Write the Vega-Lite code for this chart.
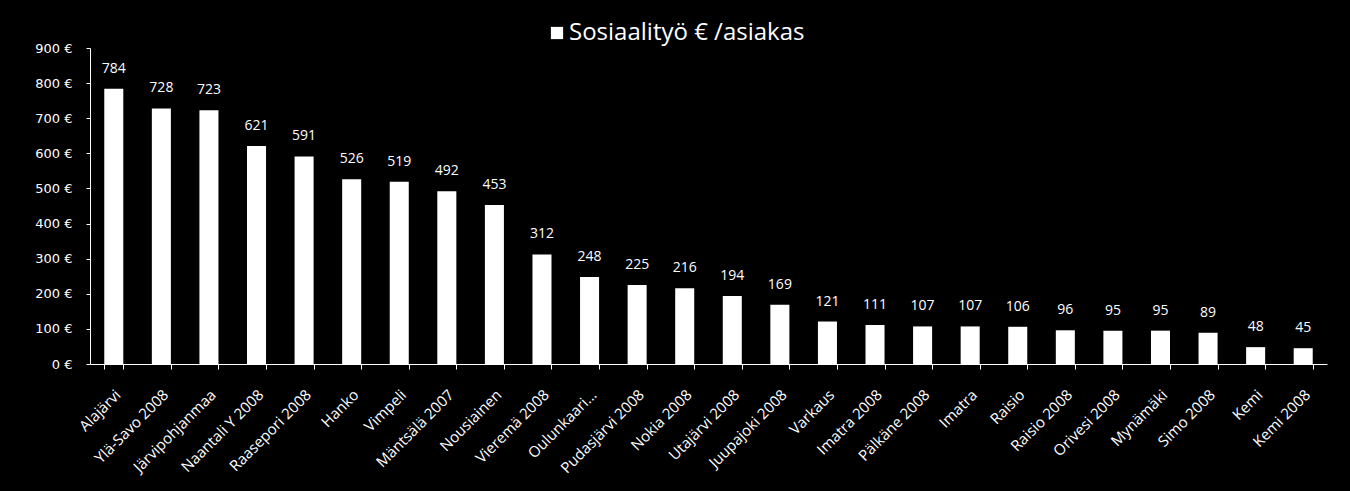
{
  "$schema": "https://vega.github.io/schema/vega-lite/v6.json",
  "width": 1237,
  "height": 316,
  "autosize": {"type": "none"},
  "padding": {"left": 90, "top": 48, "right": 23, "bottom": 127},
  "background": "#000000",
  "config": {
    "view": {"stroke": null},
    "font": "Open Sans",
    "axis": {"domainColor": "#ffffff", "tickColor": "#ffffff", "labelColor": "#ffffff", "grid": false, "titleColor": "#ffffff"}
  },
  "data": {
    "values": [
      {"kunta": "Alajärvi", "arvo": 784, "sarja": "Sosiaalityö € /asiakas"},
      {"kunta": "Ylä-Savo 2008", "arvo": 728, "sarja": "Sosiaalityö € /asiakas"},
      {"kunta": "Järvipohjanmaa", "arvo": 723, "sarja": "Sosiaalityö € /asiakas"},
      {"kunta": "Naantali Y 2008", "arvo": 621, "sarja": "Sosiaalityö € /asiakas"},
      {"kunta": "Raasepori 2008", "arvo": 591, "sarja": "Sosiaalityö € /asiakas"},
      {"kunta": "Hanko", "arvo": 526, "sarja": "Sosiaalityö € /asiakas"},
      {"kunta": "Vimpeli", "arvo": 519, "sarja": "Sosiaalityö € /asiakas"},
      {"kunta": "Mäntsälä 2007", "arvo": 492, "sarja": "Sosiaalityö € /asiakas"},
      {"kunta": "Nousiainen", "arvo": 453, "sarja": "Sosiaalityö € /asiakas"},
      {"kunta": "Vieremä 2008", "arvo": 312, "sarja": "Sosiaalityö € /asiakas"},
      {"kunta": "Oulunkaari...", "arvo": 248, "sarja": "Sosiaalityö € /asiakas"},
      {"kunta": "Pudasjärvi 2008", "arvo": 225, "sarja": "Sosiaalityö € /asiakas"},
      {"kunta": "Nokia 2008", "arvo": 216, "sarja": "Sosiaalityö € /asiakas"},
      {"kunta": "Utajärvi 2008", "arvo": 194, "sarja": "Sosiaalityö € /asiakas"},
      {"kunta": "Juupajoki 2008", "arvo": 169, "sarja": "Sosiaalityö € /asiakas"},
      {"kunta": "Varkaus", "arvo": 121, "sarja": "Sosiaalityö € /asiakas"},
      {"kunta": "Imatra 2008", "arvo": 111, "sarja": "Sosiaalityö € /asiakas"},
      {"kunta": "Pälkäne 2008", "arvo": 107, "sarja": "Sosiaalityö € /asiakas"},
      {"kunta": "Imatra", "arvo": 107, "sarja": "Sosiaalityö € /asiakas"},
      {"kunta": "Raisio", "arvo": 106, "sarja": "Sosiaalityö € /asiakas"},
      {"kunta": "Raisio 2008", "arvo": 96, "sarja": "Sosiaalityö € /asiakas"},
      {"kunta": "Orivesi 2008", "arvo": 95, "sarja": "Sosiaalityö € /asiakas"},
      {"kunta": "Mynämäki", "arvo": 95, "sarja": "Sosiaalityö € /asiakas"},
      {"kunta": "Simo 2008", "arvo": 89, "sarja": "Sosiaalityö € /asiakas"},
      {"kunta": "Kemi", "arvo": 48, "sarja": "Sosiaalityö € /asiakas"},
      {"kunta": "Kemi 2008", "arvo": 45, "sarja": "Sosiaalityö € /asiakas"}
    ]
  },
  "encoding": {
    "x": {
      "field": "kunta", "type": "nominal", "sort": null,
      "scale": {"paddingInner": 0.6, "paddingOuter": 0.3},
      "axis": {"title": null, "labelAngle": -45, "labelAlign": "right", "labelBaseline": "top", "labelFontSize": 15, "labelPadding": 18, "labelOffset": -1, "tickBand": "extent", "tickSize": 5, "labelOverlap": false, "labelLimit": 300}
    },
    "y": {
      "field": "arvo", "type": "quantitative",
      "scale": {"domain": [0, 900], "nice": false},
      "axis": {"title": null, "values": [0, 100, 200, 300, 400, 500, 600, 700, 800, 900], "labelExpr": "datum.value + ' €'", "labelFontSize": 13, "labelFont": "DejaVu Sans", "tickSize": 4, "labelPadding": 14}
    }
  },
  "layer": [
    {
      "mark": {"type": "bar"},
      "encoding": {
        "color": {
          "field": "sarja", "type": "nominal",
          "scale": {"range": ["#ffffff"]},
          "legend": {"title": null, "orient": "none", "legendX": 455, "legendY": -27, "symbolType": "square", "symbolSize": 150, "symbolStrokeWidth": 0, "labelFontSize": 24, "labelColor": "#ffffff", "labelFont": "Open Sans", "labelOffset": 0, "labelLimit": 500}
        }
      }
    },
    {
      "mark": {"type": "text", "dy": -20, "color": "#ffffff", "fontSize": 14, "font": "Open Sans"},
      "encoding": {"text": {"field": "arvo", "type": "quantitative"}}
    }
  ]
}
